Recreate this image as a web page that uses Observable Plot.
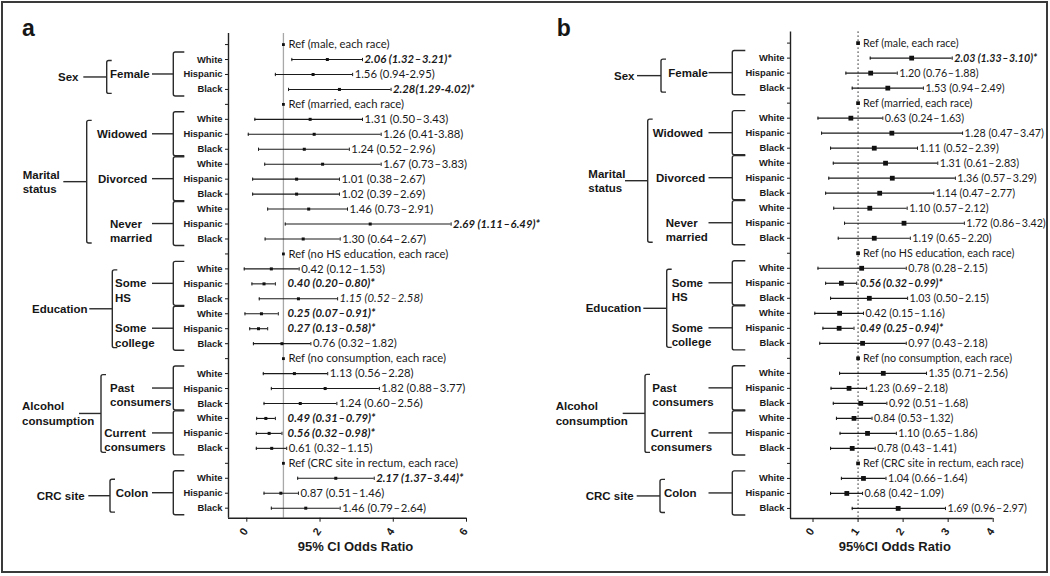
<!DOCTYPE html>
<html><head><meta charset="utf-8">
<script src="https://cdn.jsdelivr.net/npm/d3@7"></script>
<script src="https://cdn.jsdelivr.net/npm/@observablehq/plot@0.6"></script>
<style>
body{margin:0;background:#fff;}
#wrap{position:relative;width:1050px;height:576px;overflow:hidden;background:#fff;}
#border{position:absolute;left:1px;top:1px;width:1043px;height:568px;border:2px solid #3a3a3a;}
.panel{position:absolute;top:0;}
</style></head><body>
<div id="wrap"><div id="border"></div></div>
<script>
// ---------------- data ----------------
const rowRace = ["", "White","Hispanic","Black",
  "", "White","Hispanic","Black","White","Hispanic","Black","White","Hispanic","Black",
  "", "White","Hispanic","Black","White","Hispanic","Black",
  "", "White","Hispanic","Black","White","Hispanic","Black",
  "", "White","Hispanic","Black"];

const level1 = ["Sex", "Marital\nstatus", "Education", "Alcohol\nconsumption", "CRC site"];
const level1Rows = [[1,3],[5,13],[15,20],[22,27],[29,31]];
const level2 = ["Female","Widowed","Divorced","Never\nmarried","Some\nHS","Some\ncollege","Past\nconsumers","Current\nconsumers","Colon"];
const level2Rows = [[1,3],[5,7],[8,10],[11,13],[15,17],[18,20],[22,24],[25,27],[29,31]];

// Panel a (as drawn)
const estA = [1, 2.20, 1.81, 2.53, 1, 1.73, 1.84, 1.57, 2.07, 1.36, 1.36, 1.69, 3.37, 1.54, 1, 0.67, 0.47, 1.41, 0.40, 0.32, 0.96, 1, 1.30, 2.14, 1.46, 0.52, 0.61, 0.68, 1, 2.43, 0.93, 1.61];
const loA  = [null, 1.23, 0.78, 1.14, null, 0.22, 0.04, 0.32, 0.49, 0.16, 0.16, 0.57, 1.05, 0.50, null, -0.07, 0.14, 0.34, -0.05, 0.08, 0.18, null, 0.45, 0.67, 0.47, 0.27, 0.26, 0.26, null, 1.39, 0.47, 0.67];
const hiA  = [null, 3.16, 2.89, 3.94, null, 3.16, 3.67, 2.80, 3.67, 2.53, 2.53, 2.75, 5.58, 2.55, null, 1.43, 0.78, 2.48, 0.86, 0.57, 1.75, null, 2.21, 3.62, 2.46, 0.78, 0.96, 1.09, null, 3.48, 1.41, 2.55];
const labelsA = ["Ref (male, each race)", "2.06 (1.32\u200a–\u200a3.21)*", "1.56 (0.94-2.95)", "2.28(1.29-4.02)*",
  "Ref (married, each race)", "1.31 (0.50\u200a–\u200a3.43)", "1.26 (0.41-3.88)", "1.24 (0.52\u200a–\u200a2.96)", "1.67 (0.73\u200a–\u200a3.83)", "1.01 (0.38\u200a–\u200a2.67)", "1.02 (0.39\u200a–\u200a2.69)", "1.46 (0.73\u200a–\u200a2.91)", "2.69 (1.11\u200a–\u200a6.49)*", "1.30 (0.64\u200a–\u200a2.67)",
  "Ref (no HS education, each race)", "0.42 (0.12\u200a–\u200a1.53)", "0.40 (0.20–\u200a0.80)*", "1.15 (0.52\u200a–\u200a2.58)", "0.25 (0.07\u200a–\u200a0.91)*", "0.27 (0.13\u200a–\u200a0.58)*", "0.76 (0.32\u200a–\u200a1.82)",
  "Ref (no consumption, each race)", "1.13 (0.56\u200a–\u200a2.28)", "1.82 (0.88\u200a–\u200a3.77)", "1.24 (0.60\u200a–\u200a2.56)", "0.49 (0.31\u200a–\u200a0.79)*", "0.56 (0.32\u200a–\u200a0.98)*", "0.61 (0.32\u200a–\u200a1.15)",
  "Ref (CRC site in rectum, each race)", "2.17 (1.37–\u200a3.44)*", "0.87 (0.51\u200a–\u200a1.46)", "1.46 (0.79\u200a–\u200a2.64)"];
const stylesA = ["r","bi","n","bi","r","n","n","n","n","n","n","n","bi","n","r","n","bi","i","bi","bi","n","r","n","n","n","bi","bi","n","r","bi","n","n"];

// Panel b (as drawn)
const estB = [1, 2.19, 1.28, 1.66, 1, 0.84, 1.75, 1.36, 1.61, 1.76, 1.48, 1.26, 2.02, 1.36, 1, 1.08, 0.63, 1.25, 0.59, 0.58, 1.10, 1, 1.56, 0.80, 1.06, 0.91, 1.21, 0.87, 1, 1.12, 0.75, 1.89];
const loB  = [null, 1.27, 0.73, 0.87, null, 0.11, 0.19, 0.39, 0.45, 0.35, 0.28, 0.46, 0.70, 0.56, null, 0.11, 0.28, 0.39, 0.04, 0.22, 0.15, null, 0.59, 0.40, 0.45, 0.52, 0.60, 0.39, null, 0.63, 0.39, 0.87];
const hiB  = [null, 3.09, 1.87, 2.45, null, 1.55, 3.32, 2.32, 2.77, 3.16, 2.68, 2.09, 3.36, 2.16, null, 2.07, 0.97, 2.10, 1.12, 0.91, 2.07, null, 2.52, 1.19, 1.64, 1.31, 1.85, 1.38, null, 1.62, 1.10, 2.94];
const labelsB = ["Ref (male, each race)", "2.03 (1.33\u200a–\u200a3.10)*", "1.20 (0.76\u200a–\u200a1.88)", "1.53 (0.94\u200a–\u200a2.49)",
  "Ref (married, each race)", "0.63 (0.24\u200a–\u200a1.63)", "1.28 (0.47\u200a–\u200a3.47)", "1.11 (0.52\u200a–\u200a2.39)", "1.31 (0.61\u200a–\u200a2.83)", "1.36 (0.57\u200a–\u200a3.29)", "1.14 (0.47\u200a–\u200a2.77)", "1.10 (0.57\u200a–\u200a2.12)", "1.72 (0.86\u200a–\u200a3.42)", "1.19 (0.65\u200a–\u200a2.20)",
  "Ref (no HS education, each race)", "0.78 (0.28\u200a–\u200a2.15)", "0.56 (0.32\u200a–\u200a0.99)*", "1.03 (0.50\u200a–\u200a2.15)", "0.42 (0.15\u200a–\u200a1.16)", "0.49 (0.25\u200a–\u200a0.94)*", "0.97 (0.43\u200a–\u200a2.18)",
  "Ref (no consumption, each race)", "1.35 (0.71\u200a–\u200a2.56)", "1.23 (0.69\u200a–\u200a2.18)", "0.92 (0.51\u200a–\u200a1.68)", "0.84 (0.53\u200a–\u200a1.32)", "1.10 (0.65\u200a–\u200a1.86)", "0.78 (0.43\u200a–\u200a1.41)",
  "Ref (CRC site in rectum, each race)", "1.04 (0.66\u200a–\u200a1.64)", "0.68 (0.42\u200a–\u200a1.09)", "1.69 (0.96\u200a–\u200a2.97)"];
const stylesB = ["r","bi","n","n","r","n","n","n","n","n","n","n","n","n","r","n","bi","n","n","bi","n","r","n","n","n","n","n","n","r","n","n","n"];

const xTicksA = [0, 2, 4, 6];
const xTicksB = [0, 1, 2, 3, 4];
const xTitleA = "95% CI Odds Ratio";
const xTitleB = "95%CI Odds Ratio";

// ---------------- layout ----------------
const labelFont = "Lato, 'Open Sans', sans-serif";
const boldFont = "'Liberation Sans', Arial, sans-serif";

const layoutA = {
  left: 0, width: 522, ml: 228, mr: 56, mt: 33, mb: 58.3,
  xDomain: [-0.5, 6], ticks: xTicksA, title: xTitleA, titleDx: 8, titleDy: 33, tickDy: 15.6,
  clear: 1.06, dotR: 1.7, refR: 1.6, lw: 1.1, refDx: 5, labelSize: 11.3,
  refRule: {stroke: "#a8a8a8", strokeWidth: 1.3},
  panelLabel: "a", plX: 22,
  l1X: [58, 22.7, 32, 22, 36.7], l1LineX: [83.3, 63.3, 89.3, 79, 88.3], l1BracketX: [106.7, 86.7, 112.3, 101, 110],
  l2X: [110, 97, 98, 110, 115, 115, 110, 104.3, 115.7], l2LineX: 152, raceX: 173.3, raceStub: 11
};
const layoutB = {
  left: 520, width: 530, ml: 270, mr: 57.3, mt: 31.5, mb: 58,
  xDomain: [-0.5, 4], ticks: xTicksB, title: xTitleB, titleDx: 3, titleDy: 32, tickDy: 15.3,
  clear: 1.0, dotR: 2.7, refR: 2.1, lw: 1.2, refDx: 5, labelSize: 10.7,
  refRule: {stroke: "#222", strokeWidth: 1.2, strokeDasharray: "1.3,2.7"},
  panelLabel: "b", plX: 36.7,
  l1X: [94, 68.3, 65.7, 35.7, 65.7], l1LineX: [117, 105, 123.3, 102.7, 116.7], l1BracketX: [141, 127.7, 146.7, 125, 140],
  l2X: [148.3, 132.7, 136, 145.7, 151.7, 151.7, 132.3, 130.7, 144], l2LineX: 188.5, raceX: 212.3, raceStub: 13
};

function treeMark(L) {
  return (index, scales) => {
    const y = scales.y;
    const step = Math.abs(y(1) - y(0));
    const g = d3.create("svg:g");
    const lines = g.append("g").attr("fill", "none").attr("stroke", "#2b2b2b").attr("stroke-width", 1.4);
    const texts = g.append("g").attr("fill", "#161616").attr("font-family", boldFont)
      .attr("font-weight", "bold").attr("font-size", 11.5).attr("text-anchor", "start");
    const bracket = (x, y0, y1, s) => lines.append("path")
      .attr("d", `M${x + s},${y0}L${x + 2},${y0}Q${x},${y0} ${x},${y0 + 2}L${x},${y1 - 2}Q${x},${y1} ${x + 2},${y1}L${x + s},${y1}`);
    const label = (str, x, yFirst) => {
      const t = texts.append("text").attr("x", x).attr("y", yFirst);
      str.split("\n").forEach((s, k) => t.append("tspan").attr("x", x).attr("dy", k ? "1.24em" : "0.36em").text(s));
    };
    level2.forEach((name, k) => {
      const [r0, r1] = level2Rows[k];
      const ya = y(r0) - 0.47 * step, yb = y(r1) + 0.47 * step, ym = y((r0 + r1) / 2);
      bracket(L.raceX, ya, yb, L.raceStub);
      lines.append("line").attr("x1", L.l2LineX).attr("x2", L.raceX).attr("y1", ym).attr("y2", ym);
      label(name, L.l2X[k], ym);
    });
    level1.forEach((name, k) => {
      const [r0, r1] = level1Rows[k];
      const ya = y(r0) + 0.1 * step, yb = y(r1) + 0.3 * step, ym = (ya + yb) / 2;
      bracket(L.l1BracketX[k], ya, yb, 5);
      lines.append("line").attr("x1", L.l1LineX[k]).attr("x2", L.l1BracketX[k]).attr("y1", ym).attr("y2", ym);
      const n = name.split("\n").length;
      label(name, L.l1X[k], ym - (n - 1) * 0.62 * 11.5);
    });
    texts.append("text").attr("x", L.plX).attr("y", 36).attr("font-size", 23).text(L.panelLabel);
    return g.node();
  };
}

function panel(L, est, lo, hi, labels, styles) {
  const rows = d3.range(est.length).map(i => ({i, est: est[i], lo: lo[i], hi: hi[i], label: labels[i], style: styles[i]}));
  const ci = rows.filter(d => d.lo != null);
  const refs = rows.filter(d => d.lo == null);
  const lx = d => Math.max(d.hi, L.clear);
  const common = {y: "i", text: "label", textAnchor: "start", fontFamily: labelFont, fontSize: L.labelSize, fill: "#1a1a1a"};
  const ymax = 31.67;
  return Plot.plot({
    width: L.width, height: 576,
    marginLeft: L.ml, marginRight: L.mr, marginTop: L.mt, marginBottom: L.mb,
    style: {fontFamily: boldFont, color: "#1a1a1a", overflow: "visible", background: "transparent"},
    x: {domain: L.xDomain, label: null},
    y: {domain: [-0.74, ymax], reverse: true, label: null},
    marks: [
      Plot.ruleX([1], L.refRule),
      Plot.ruleX([L.xDomain[0]], {stroke: "#222", strokeWidth: 1.4}),
      Plot.ruleY([ymax], {stroke: "#222", strokeWidth: 1.4}),
      Plot.axisY({ticks: d3.range(rowRace.length), tickFormat: i => rowRace[i], tickSize: 3, tickPadding: 3,
        fontWeight: "bold", fontSize: 9.4, label: null}),
      Plot.axisX({ticks: L.ticks, tickFormat: () => "", tickSize: 4, label: null}),
      Plot.text(L.ticks, {x: d => d, text: d => String(d), frameAnchor: "bottom", dy: L.tickDy, rotate: -55,
        fontWeight: "bold", fontSize: 11, fill: "#1a1a1a"}),
      Plot.text([L.title], {text: d => d, frameAnchor: "bottom", dx: L.titleDx, dy: L.titleDy,
        fontWeight: "bold", fontSize: 13, fill: "#1a1a1a"}),
      Plot.ruleY(ci, {y: "i", x1: "lo", x2: "hi", stroke: "#1a1a1a", strokeWidth: L.lw}),
      Plot.link(ci, {x1: "lo", x2: "lo", y1: d => d.i - 0.11, y2: d => d.i + 0.11, stroke: "#1a1a1a", strokeWidth: 1}),
      Plot.link(ci, {x1: "hi", x2: "hi", y1: d => d.i - 0.11, y2: d => d.i + 0.11, stroke: "#1a1a1a", strokeWidth: 1}),
      Plot.dot(ci, {x: "est", y: "i", symbol: "square", r: L.dotR, fill: "#111", stroke: "none"}),
      Plot.dot(refs, {x: "est", y: "i", symbol: "square", r: L.refR, fill: "#111", stroke: "none"}),
      Plot.text(refs, {...common, x: "est", dx: L.refDx}),
      Plot.text(ci.filter(d => d.style === "n"), {...common, x: lx, dx: 2}),
      Plot.text(ci.filter(d => d.style === "i"), {...common, x: lx, dx: 2, fontStyle: "italic"}),
      Plot.text(ci.filter(d => d.style === "bi"), {...common, x: lx, dx: 2, fontStyle: "italic", fontWeight: "bold"}),
      treeMark(L)
    ]
  });
}

const wrap = document.getElementById("wrap");
[[layoutA, estA, loA, hiA, labelsA, stylesA], [layoutB, estB, loB, hiB, labelsB, stylesB]].forEach(([L, e, l, h, lab, st]) => {
  const svg = panel(L, e, l, h, lab, st);
  svg.classList.add("panel");
  svg.style.left = L.left + "px";
  svg.style.position = "absolute";
  svg.style.top = "0px";
  wrap.appendChild(svg);
});
</script>
</body></html>
